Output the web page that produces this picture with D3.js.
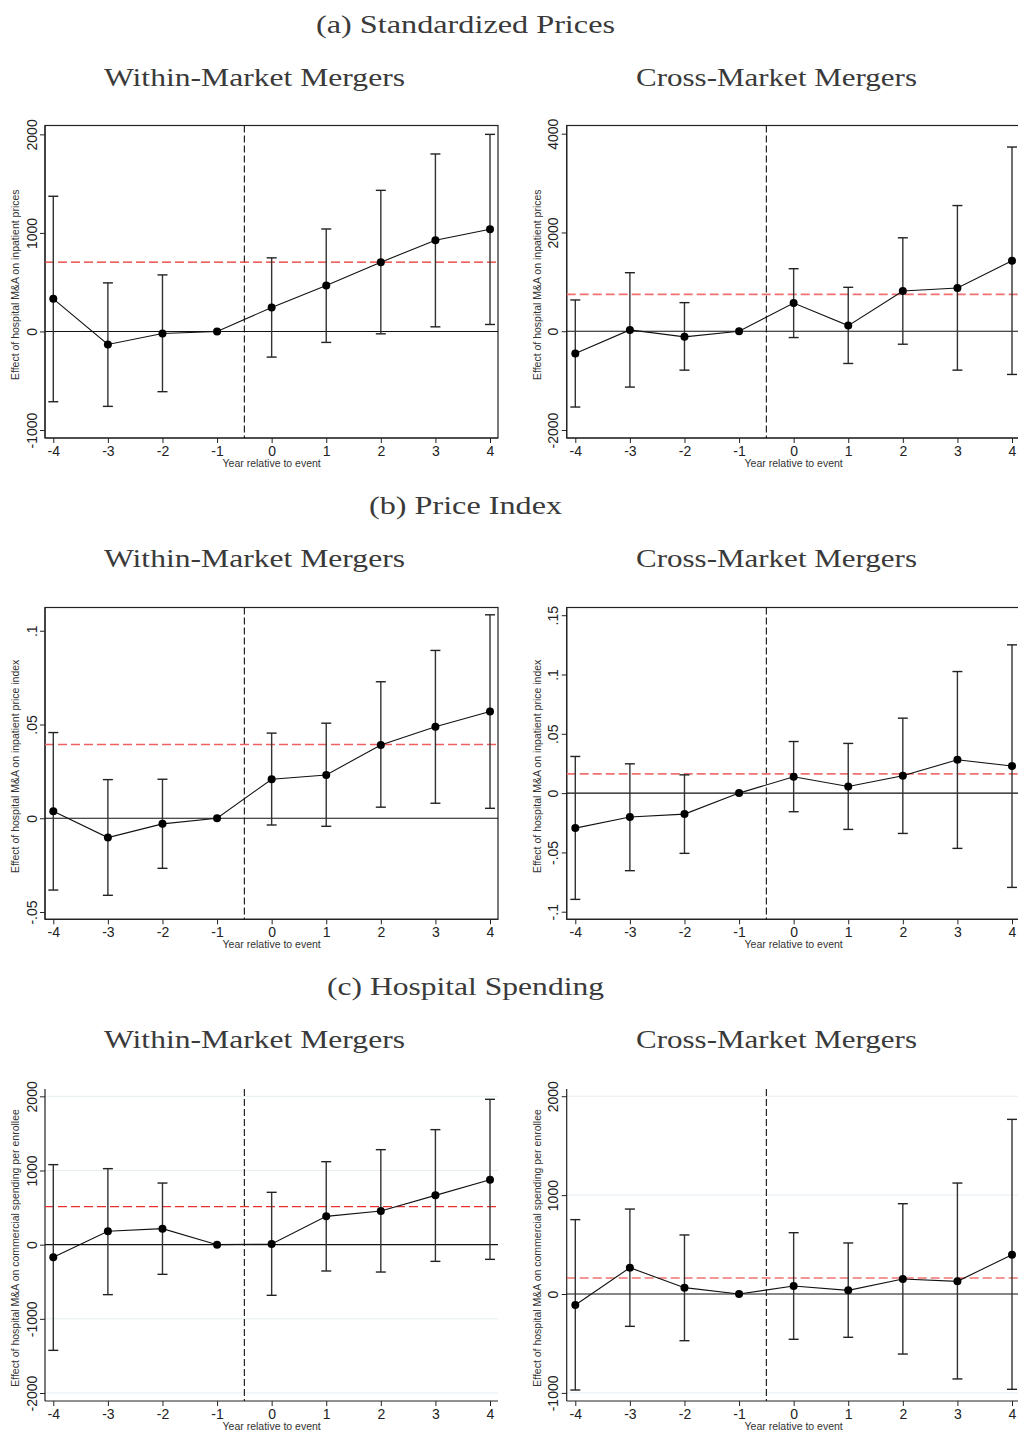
<!DOCTYPE html>
<html>
<head>
<meta charset="utf-8">
<script src="https://cdn.jsdelivr.net/npm/d3@7/dist/d3.min.js"></script>
<style>
  html, body { margin: 0; padding: 0; background: #fff; }
  svg { display: block; }
</style>
</head>
<body>
<svg id="chart" width="1018" height="1431"></svg>
<script>
// ---------------- DATA ----------------
const years = [-4, -3, -2, -1, 0, 1, 2, 3, 4];
const xTickLabels = ["-4", "-3", "-2", "-1", "0", "1", "2", "3", "4"];
const xAxisTitle = "Year relative to event";

const sectionTitles = ["(a) Standardized Prices", "(b) Price Index", "(c) Hospital Spending"];
const columnTitles = ["Within-Market Mergers", "Cross-Market Mergers"];

const yTitlePrices = "Effect of hospital M&A on inpatient prices";
const yTitleIndex = "Effect of hospital M&A on inpatient price index";
const yTitleSpending = "Effect of hospital M&A on commercial spending per enrollee";

// (a) Standardized prices, within-market
const aWithinCoef = [331, -132, -20, 0, 243, 466, 703, 926, 1037];
const aWithinLo   = [-713, -760, -611, null, -260, -111, -24, 47, 71];
const aWithinHi   = [1372, 493, 574, null, 747, 1040, 1432, 1801, 2000];
const aWithinAvg  = 703;
const aWithinTicks = [-1000, 0, 1000, 2000];
const aWithinTickLabels = ["-1000", "0", "1000", "2000"];

// (a) Standardized prices, cross-market
const aCrossCoef = [-451, 27, -114, 0, 572, 114, 815, 875, 1428];
const aCrossLo   = [-1535, -1131, -788, null, -128, -653, -263, -788, -875];
const aCrossHi   = [633, 1185, 579, null, 1266, 889, 1892, 2545, 3730];
const aCrossAvg  = 747;
const aCrossTicks = [-2000, 0, 2000, 4000];
const aCrossTickLabels = ["-2000", "0", "2000", "4000"];

// (b) Price index, within-market
const bWithinCoef = [0.0037, -0.0103, -0.0030, 0, 0.0208, 0.0231, 0.0391, 0.0488, 0.0569];
const bWithinLo   = [-0.0383, -0.0411, -0.0267, null, -0.0036, -0.0043, 0.0059, 0.0080, 0.0053];
const bWithinHi   = [0.0457, 0.0206, 0.0208, null, 0.0454, 0.0507, 0.0728, 0.0895, 0.1085];
const bWithinAvg  = 0.0393;
const bWithinTicks = [-0.05, 0, 0.05, 0.1];
const bWithinTickLabels = ["-.05", "0", ".05", ".1"];

// (b) Price index, cross-market
const bCrossCoef = [-0.0295, -0.0202, -0.0177, 0, 0.0138, 0.0056, 0.0146, 0.0281, 0.0228];
const bCrossLo   = [-0.0896, -0.0654, -0.0508, null, -0.0157, -0.0306, -0.0340, -0.0466, -0.0795];
const bCrossHi   = [0.0309, 0.0247, 0.0154, null, 0.0435, 0.0419, 0.0632, 0.1025, 0.1250];
const bCrossAvg  = 0.0163;
const bCrossTicks = [-0.1, -0.05, 0, 0.05, 0.1, 0.15];
const bCrossTickLabels = ["-.1", "-.05", "0", ".05", ".1", ".15"];

// (c) Hospital spending, within-market
const cWithinCoef = [-171, 180, 216, 0, 9, 382, 454, 665, 876];
const cWithinLo   = [-1425, -674, -400, null, -683, -355, -369, -225, -198];
const cWithinHi   = [1079, 1025, 831, null, 706, 1119, 1281, 1551, 1960];
const cWithinAvg  = 512;
const cWithinTicks = [-2000, -1000, 0, 1000, 2000];
const cWithinTickLabels = ["-2000", "-1000", "0", "1000", "2000"];

// (c) Hospital spending, cross-market
const cCrossCoef = [-111, 266, 64, 0, 81, 37, 152, 128, 398];
const cCrossLo   = [-971, -327, -472, null, -458, -438, -607, -859, -964];
const cCrossHi   = [752, 859, 597, null, 620, 516, 913, 1122, 1766];
const cCrossAvg  = 162;
const cCrossTicks = [-1000, 0, 1000, 2000];
const cCrossTickLabels = ["-1000", "0", "1000", "2000"];

// ---------------- LAYOUT ----------------
const svg = d3.select("#chart");
const SERIF = "'Liberation Serif', 'Times New Roman', serif";
const SANS = "'Liberation Sans', Arial, Helvetica, sans-serif";

const cols = [
  { frameL: 45,    xL: 53.3,  xR: 490,  frameR: 498 },
  { frameL: 566.7, xL: 575.3, xR: 1012, frameR: 1020.5 }
];
const rows = [
  { top: 125.5, bottom: 438,    titleY: 33,   colTitleY: 86,   grid: false, box: true },
  { top: 607.5, bottom: 919.3,  titleY: 514,  colTitleY: 567,  grid: false, box: true },
  { top: 1089,  bottom: 1401,   titleY: 995,  colTitleY: 1048, grid: true,  box: false }
];

const panels = [
  { row: 0, col: 0, coef: aWithinCoef, lo: aWithinLo, hi: aWithinHi, avg: aWithinAvg,
    ticks: aWithinTicks, tickLabels: aWithinTickLabels, domain: [-1081, 2090], ytitle: yTitlePrices, red: "#e8302c", redW: 1.2 },
  { row: 0, col: 1, coef: aCrossCoef, lo: aCrossLo, hi: aCrossHi, avg: aCrossAvg,
    ticks: aCrossTicks, tickLabels: aCrossTickLabels, domain: [-2162, 4166], ytitle: yTitlePrices, red: "#f07070", redW: 1.8 },
  { row: 1, col: 0, coef: bWithinCoef, lo: bWithinLo, hi: bWithinHi, avg: bWithinAvg,
    ticks: bWithinTicks, tickLabels: bWithinTickLabels, domain: [-0.0539, 0.1124], ytitle: yTitleIndex, red: "#f06060", redW: 1.6 },
  { row: 1, col: 1, coef: bCrossCoef, lo: bCrossLo, hi: bCrossHi, avg: bCrossAvg,
    ticks: bCrossTicks, tickLabels: bCrossTickLabels, domain: [-0.1064, 0.1565], ytitle: yTitleIndex, red: "#f07070", redW: 1.8 },
  { row: 2, col: 0, coef: cWithinCoef, lo: cWithinLo, hi: cWithinHi, avg: cWithinAvg,
    ticks: cWithinTicks, tickLabels: cWithinTickLabels, domain: [-2108, 2099], ytitle: yTitleSpending, red: "#e8302c", redW: 1.2 },
  { row: 2, col: 1, coef: cCrossCoef, lo: cCrossLo, hi: cCrossHi, avg: cCrossAvg,
    ticks: cCrossTicks, tickLabels: cCrossTickLabels, domain: [-1082, 2073], ytitle: yTitleSpending, red: "#e8302c", redW: 1.2 }
];

// ---------------- TITLES ----------------
const titleWidths = [299, 193, 277];
rows.forEach((r, i) => {
  svg.append("text")
    .attr("x", 465.5).attr("y", r.titleY)
    .attr("text-anchor", "middle")
    .attr("font-family", SERIF).attr("font-size", 26).attr("fill", "#3a3a3a")
    .attr("textLength", titleWidths[i]).attr("lengthAdjust", "spacingAndGlyphs")
    .text(sectionTitles[i]);
  [254.5, 776.5].forEach((cx, j) => {
    svg.append("text")
      .attr("x", cx).attr("y", r.colTitleY)
      .attr("text-anchor", "middle")
      .attr("font-family", SERIF).attr("font-size", 26).attr("fill", "#3a3a3a")
      .attr("textLength", j === 0 ? 301 : 281).attr("lengthAdjust", "spacingAndGlyphs")
      .text(columnTitles[j]);
  });
});

// ---------------- PANELS ----------------
panels.forEach(p => {
  const r = rows[p.row], c = cols[p.col];
  const g = svg.append("g");
  const x = d3.scaleLinear().domain([-4, 4]).range([c.xL, c.xR]);
  const y = d3.scaleLinear().domain(p.domain).range([r.bottom, r.top]);

  // gridlines (bottom row)
  if (r.grid) {
    g.selectAll("line.grid").data(p.ticks.filter(t => t !== 0)).enter()
      .append("line")
      .attr("x1", c.frameL).attr("x2", c.frameR)
      .attr("y1", d => y(d)).attr("y2", d => y(d))
      .attr("stroke", "#e6eef2").attr("stroke-width", 1);
  }

  // frame
  if (r.box) {
    g.append("rect")
      .attr("x", c.frameL).attr("y", r.top)
      .attr("width", c.frameR - c.frameL).attr("height", r.bottom - r.top)
      .attr("fill", "none").attr("stroke", "#222").attr("stroke-width", 1.2);
  }

  // Y axis
  const yAxis = d3.axisLeft(y).tickValues(p.ticks).tickSize(5).tickPadding(4)
    .tickFormat((d, i) => p.tickLabels[i]);
  const ya = g.append("g").attr("transform", `translate(${c.frameL},0)`).call(yAxis);
  ya.attr("font-size", null).attr("font-family", null);
  ya.select(".domain").attr("d", `M0,${r.bottom}V${r.top}`).attr("stroke", "#222").attr("stroke-width", 1.2);
  ya.selectAll(".tick line").attr("stroke", "#222");
  ya.selectAll(".tick text")
    .attr("font-family", SANS).style("font-size", "14px").attr("fill", "#222")
    .attr("x", null).attr("dy", null)
    .attr("text-anchor", "middle")
    .attr("transform", "translate(-8.5,0) rotate(-90)");

  // X axis
  const xAxis = d3.axisBottom(x).tickValues(years).tickSize(5).tickPadding(3)
    .tickFormat((d, i) => xTickLabels[i]);
  const xa = g.append("g").attr("transform", `translate(0,${r.bottom})`).call(xAxis);
  xa.attr("font-size", null).attr("font-family", null);
  xa.select(".domain").attr("d", `M${c.frameL},0H${c.frameR}`).attr("stroke", "#222").attr("stroke-width", 1.2);
  xa.selectAll(".tick line").attr("stroke", "#222");
  xa.selectAll(".tick text").attr("font-family", SANS).style("font-size", "14px").attr("fill", "#222");

  // axis titles
  g.append("text")
    .attr("transform", `translate(${c.frameL - 26},${(r.top + r.bottom) / 2 + 3}) rotate(-90)`)
    .attr("text-anchor", "middle")
    .attr("font-family", SANS).style("font-size", "10.5px").attr("fill", "#333")
    .text(p.ytitle);
  g.append("text")
    .attr("x", (c.xL + c.xR) / 2).attr("y", r.bottom + 29)
    .attr("text-anchor", "middle")
    .attr("font-family", SANS).style("font-size", "10.5px").attr("fill", "#333")
    .text(xAxisTitle);

  // zero line
  g.append("line")
    .attr("x1", c.frameL).attr("x2", Math.min(c.frameR, 1018))
    .attr("y1", y(0)).attr("y2", y(0))
    .attr("stroke", "#111").attr("stroke-width", 1.1);

  // event line at -0.5
  g.append("line")
    .attr("x1", x(-0.5)).attr("x2", x(-0.5))
    .attr("y1", r.top).attr("y2", r.bottom)
    .attr("stroke", "#111").attr("stroke-width", 1.1)
    .attr("stroke-dasharray", "7,3");

  // average (red dashed)
  g.append("line")
    .attr("x1", c.frameL).attr("x2", Math.min(c.frameR, 1018))
    .attr("y1", y(p.avg)).attr("y2", y(p.avg))
    .attr("stroke", p.red).attr("stroke-width", p.redW)
    .attr("stroke-dasharray", "9,4");

  // error bars
  const ci = years.map((yr, i) => ({ yr, lo: p.lo[i], hi: p.hi[i] })).filter(d => d.lo !== null);
  const eb = g.selectAll("g.eb").data(ci).enter().append("g");
  eb.append("line")
    .attr("x1", d => x(d.yr)).attr("x2", d => x(d.yr))
    .attr("y1", d => y(d.lo)).attr("y2", d => y(d.hi))
    .attr("stroke", "#333").attr("stroke-width", 1.4);
  eb.append("line")
    .attr("x1", d => x(d.yr) - 5).attr("x2", d => x(d.yr) + 5)
    .attr("y1", d => y(d.lo)).attr("y2", d => y(d.lo))
    .attr("stroke", "#222").attr("stroke-width", 1.4);
  eb.append("line")
    .attr("x1", d => x(d.yr) - 5).attr("x2", d => x(d.yr) + 5)
    .attr("y1", d => y(d.hi)).attr("y2", d => y(d.hi))
    .attr("stroke", "#222").attr("stroke-width", 1.4);

  // connecting line
  const pts = years.map((yr, i) => ({ yr, v: p.coef[i] }));
  g.append("path")
    .attr("d", d3.line().x(d => x(d.yr)).y(d => y(d.v))(pts))
    .attr("fill", "none").attr("stroke", "#111").attr("stroke-width", 1.1);

  // points
  g.selectAll("circle.pt").data(pts).enter().append("circle")
    .attr("cx", d => x(d.yr)).attr("cy", d => y(d.v)).attr("r", 4)
    .attr("fill", "#000");
});
</script>
</body>
</html>
